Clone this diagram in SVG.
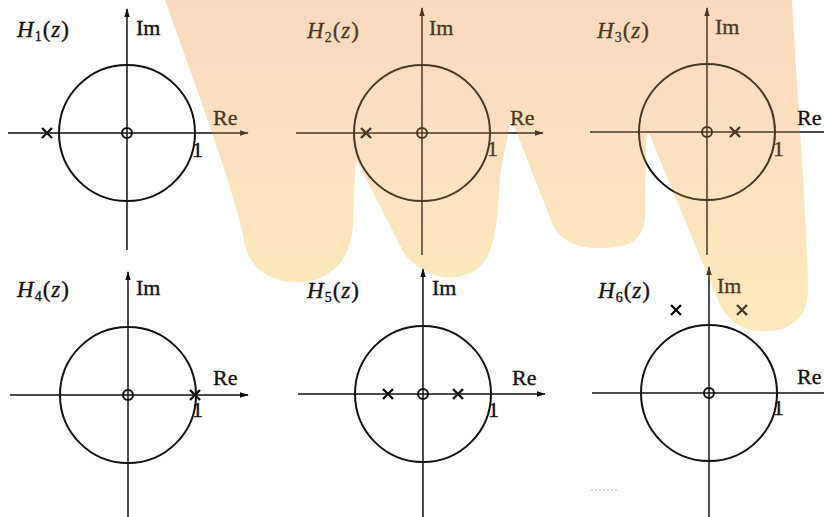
<svg xmlns="http://www.w3.org/2000/svg" width="824" height="517" viewBox="0 0 824 517">
<style>
.ax{stroke:#111;stroke-width:1.5;fill:none}
.uc{stroke:#111;stroke-width:2;fill:none}
.zr{stroke:#111;stroke-width:2;fill:none}
.pl{stroke:#111;stroke-width:2.4;fill:none;stroke-linecap:butt}
.t{font-family:"Liberation Serif","DejaVu Serif",serif;font-size:22px;fill:#111;stroke:#111;stroke-width:0.35}
.h{font-family:"Liberation Serif","DejaVu Serif",serif;font-size:23px;fill:#111;stroke:#111;stroke-width:0.35;letter-spacing:1px}
.i{font-style:italic}
.s{font-size:14px}
</style>
<defs>
<marker id="arr" viewBox="0 0 10 6" refX="9" refY="3" markerWidth="9" markerHeight="5.4" markerUnits="userSpaceOnUse" orient="auto">
<path d="M0,0 L10,3 L0,6 z" fill="#111"/>
</marker>
<linearGradient id="wmg" gradientUnits="userSpaceOnUse" x1="0" y1="0" x2="0" y2="330">
<stop offset="0" stop-color="#FDE7DD"/>
<stop offset="0.45" stop-color="#FFF1DE"/>
<stop offset="1" stop-color="#FFFDD8"/>
</linearGradient>
<path id="wm" d="M165,0 L792,0 C796,80 806,200 808,285 C809,320 790,332 760,331 C738,330 728,318 720,305 L651,138 Q648,128 646,140 L645,215 C644,240 630,248 600,248 C575,248 560,240 553,225 L514,126 Q511,118 509,128 L500,175 C497,230 495,262 470,273 C455,280 430,282 405,255 L359,165 Q356,158 355,168 L353,225 C350,270 320,283 295,282 C265,281 250,265 245,245 C238,200 190,70 165,0 Z"/>
</defs>
<rect width="824" height="517" fill="#fff"/>
<use href="#wm" fill="url(#wmg)"/>

<g id="panel-h1">
<line class="ax" x1="8" y1="133" x2="248" y2="133" marker-end="url(#arr)"/>
<line class="ax" x1="127" y1="250" x2="127" y2="9" marker-end="url(#arr)"/>
<circle class="uc" cx="127" cy="133" r="68"/>
<circle class="zr" cx="127" cy="133" r="5"/>
<path class="pl" d="M42,128 L52,138 M52,128 L42,138"/>
<text class="h" x="17" y="37"><tspan class="i">H</tspan><tspan class="s" dy="4">1</tspan><tspan dy="-4">(</tspan><tspan class="i">z</tspan>)</text>
<text class="t" x="136" y="35">Im</text>
<text class="t" x="213" y="125">Re</text>
<text class="t" x="192" y="157">1</text>
</g>

<g id="panel-h2">
<line class="ax" x1="296" y1="133" x2="543" y2="133" marker-end="url(#arr)"/>
<line class="ax" x1="422" y1="255" x2="422" y2="8" marker-end="url(#arr)"/>
<circle class="uc" cx="422" cy="133" r="68"/>
<circle class="zr" cx="422" cy="133" r="5"/>
<path class="pl" d="M361,128 L371,138 M371,128 L361,138"/>
<text class="h" x="307" y="38"><tspan class="i">H</tspan><tspan class="s" dy="4">2</tspan><tspan dy="-4">(</tspan><tspan class="i">z</tspan>)</text>
<text class="t" x="429" y="35">Im</text>
<text class="t" x="510" y="125">Re</text>
<text class="t" x="487" y="156">1</text>
</g>

<g id="panel-h3">
<line class="ax" x1="590" y1="132" x2="824" y2="132"/>
<line class="ax" x1="707" y1="255" x2="707" y2="8" marker-end="url(#arr)"/>
<circle class="uc" cx="707" cy="132" r="68"/>
<circle class="zr" cx="707" cy="132" r="5"/>
<path class="pl" d="M730,127 L740,137 M740,127 L730,137"/>
<text class="h" x="597" y="38"><tspan class="i">H</tspan><tspan class="s" dy="4">3</tspan><tspan dy="-4">(</tspan><tspan class="i">z</tspan>)</text>
<text class="t" x="715" y="34">Im</text>
<text class="t" x="797" y="125">Re</text>
<text class="t" x="773" y="156">1</text>
</g>

<g id="panel-h4">
<line class="ax" x1="10" y1="395" x2="248" y2="395" marker-end="url(#arr)"/>
<line class="ax" x1="128" y1="517" x2="128" y2="272" marker-end="url(#arr)"/>
<circle class="uc" cx="128" cy="395" r="68"/>
<circle class="zr" cx="128" cy="395" r="5"/>
<path class="pl" d="M190,390 L200,400 M200,390 L190,400"/>
<text class="h" x="17" y="297"><tspan class="i">H</tspan><tspan class="s" dy="4">4</tspan><tspan dy="-4">(</tspan><tspan class="i">z</tspan>)</text>
<text class="t" x="136" y="295">Im</text>
<text class="t" x="213" y="385">Re</text>
<text class="t" x="192" y="417">1</text>
</g>

<g id="panel-h5">
<line class="ax" x1="298" y1="394" x2="545" y2="394" marker-end="url(#arr)"/>
<line class="ax" x1="423" y1="517" x2="423" y2="269" marker-end="url(#arr)"/>
<circle class="uc" cx="423" cy="394" r="68"/>
<circle class="zr" cx="423" cy="394" r="5"/>
<path class="pl" d="M383,389 L393,399 M393,389 L383,399 M453,389 L463,399 M463,389 L453,399"/>
<text class="h" x="307" y="298"><tspan class="i">H</tspan><tspan class="s" dy="4">5</tspan><tspan dy="-4">(</tspan><tspan class="i">z</tspan>)</text>
<text class="t" x="432" y="295">Im</text>
<text class="t" x="512" y="385">Re</text>
<text class="t" x="488" y="417">1</text>
</g>

<g id="panel-h6">
<line class="ax" x1="592" y1="393" x2="824" y2="393"/>
<line class="ax" x1="709" y1="517" x2="709" y2="267" marker-end="url(#arr)"/>
<circle class="uc" cx="709" cy="393" r="68"/>
<circle class="zr" cx="709" cy="393" r="5"/>
<path class="pl" d="M671,305 L681,315 M681,305 L671,315 M737,305 L747,315 M747,305 L737,315"/>
<text class="h" x="598" y="298"><tspan class="i">H</tspan><tspan class="s" dy="4">6</tspan><tspan dy="-4">(</tspan><tspan class="i">z</tspan>)</text>
<text class="t" x="717" y="293">Im</text>
<text class="t" x="797" y="384">Re</text>
<text class="t" x="773" y="415">1</text>
</g>

<line x1="591" y1="490" x2="618" y2="490" stroke="#bbb" stroke-width="1" stroke-dasharray="2,2"/>

<use href="#wm" fill="#F0B464" opacity="0.25"/>
</svg>
